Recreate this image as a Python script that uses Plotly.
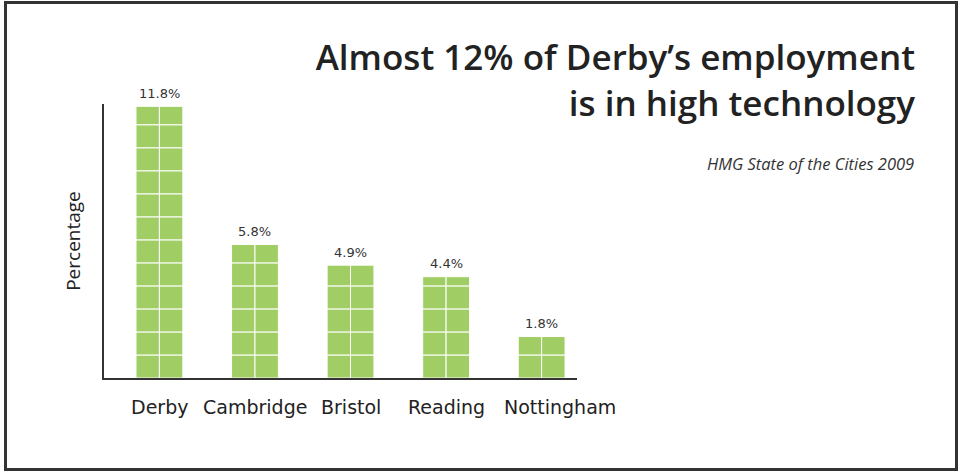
import math
import plotly.graph_objects as go

categories = ["Derby", "Cambridge", "Bristol", "Reading", "Nottingham"]
values = [11.8, 5.8, 4.9, 4.4, 1.8]
value_labels = ["11.8%", "5.8%", "4.9%", "4.4%", "1.8%"]

GREEN = "#a0cd64"
W, H = 962, 472
L, R, T, B = 104, 385, 104, 94
pw, ph = W - L - R, H - T - B

def px_x(p):
    return (p - L) / pw

def px_y(p):
    return (H - B - p) / ph

# build stacked cells (1 % per row, two columns per bar)
xs, bases, hs = [], [], []
for i, v in enumerate(values):
    n = math.ceil(v - 1e-9)
    for k in range(n):
        xs.append(i)
        bases.append(k)
        hs.append(min(1.0, v - k))

colw = 0.245
fig = go.Figure()
for off in (-colw, 0.0):
    fig.add_trace(go.Bar(
        x=xs, y=hs, base=bases, width=colw, offset=off,
        marker=dict(color=GREEN, line=dict(color="white", width=1)),
        hoverinfo="skip", showlegend=False,
    ))

annotations = []
for i, (v, lab) in enumerate(zip(values, value_labels)):
    annotations.append(dict(
        x=i, y=v, xref="x", yref="y", text=lab, showarrow=False,
        yanchor="middle", yshift=13,
        font=dict(family="DejaVu Sans", size=13, color="#333333"),
    ))

# category labels (the last one sits a little right of its bar in the original)
for i, cat in enumerate(categories):
    annotations.append(dict(
        x=i, y=0, xref="x", yref="paper", text=cat, showarrow=False,
        yanchor="top", yshift=-16, xshift=18 if i == len(categories) - 1 else 0,
        font=dict(family="DejaVu Sans", size=19, color="#222222"),
    ))

annotations.append(dict(
    text="<i>HMG State of the Cities 2009</i>",
    xref="paper", yref="paper", x=px_x(916), y=px_y(163),
    xanchor="right", yanchor="middle", showarrow=False,
    font=dict(family="Open Sans", size=16.5, color="#333333"),
))

fig.update_layout(
    width=W, height=H,
    margin=dict(l=L, r=R, t=T, b=B, autoexpand=False),
    paper_bgcolor="white", plot_bgcolor="white",
    barmode="overlay",
    title=dict(
        text="Almost 12% of Derby’s employment<br>is in high technology",
        xref="container", yref="container",
        x=915 / W, xanchor="right", y=1 - 70 / H, yanchor="top",
        font=dict(family="Open Sans", size=35, weight=600, color="#222222"),
    ),
    xaxis=dict(
        range=[-0.58, 4.37],
        showticklabels=False,
        showline=True, linecolor="#333333", linewidth=2,
        showgrid=False, zeroline=False, ticks="",
        fixedrange=True,
    ),
    yaxis=dict(
        range=[0, 11.9], showticklabels=False, ticks="",
        showline=True, linecolor="#333333", linewidth=2,
        showgrid=False, zeroline=False,
        title=dict(text="Percentage", standoff=16,
                   font=dict(family="Open Sans", size=19, color="#222222")),
        fixedrange=True,
    ),
    annotations=annotations,
    shapes=[dict(
        type="rect", xref="paper", yref="paper",
        x0=px_x(5.5), x1=px_x(956.5), y0=px_y(469.5), y1=px_y(2.5),
        line=dict(color="#333333", width=3), layer="above",
    )],
)

fig.write_html(
    "out.html",
    config={"displayModeBar": False},
    post_script="document.body.style.margin='0';document.body.style.overflow='hidden';",
)
